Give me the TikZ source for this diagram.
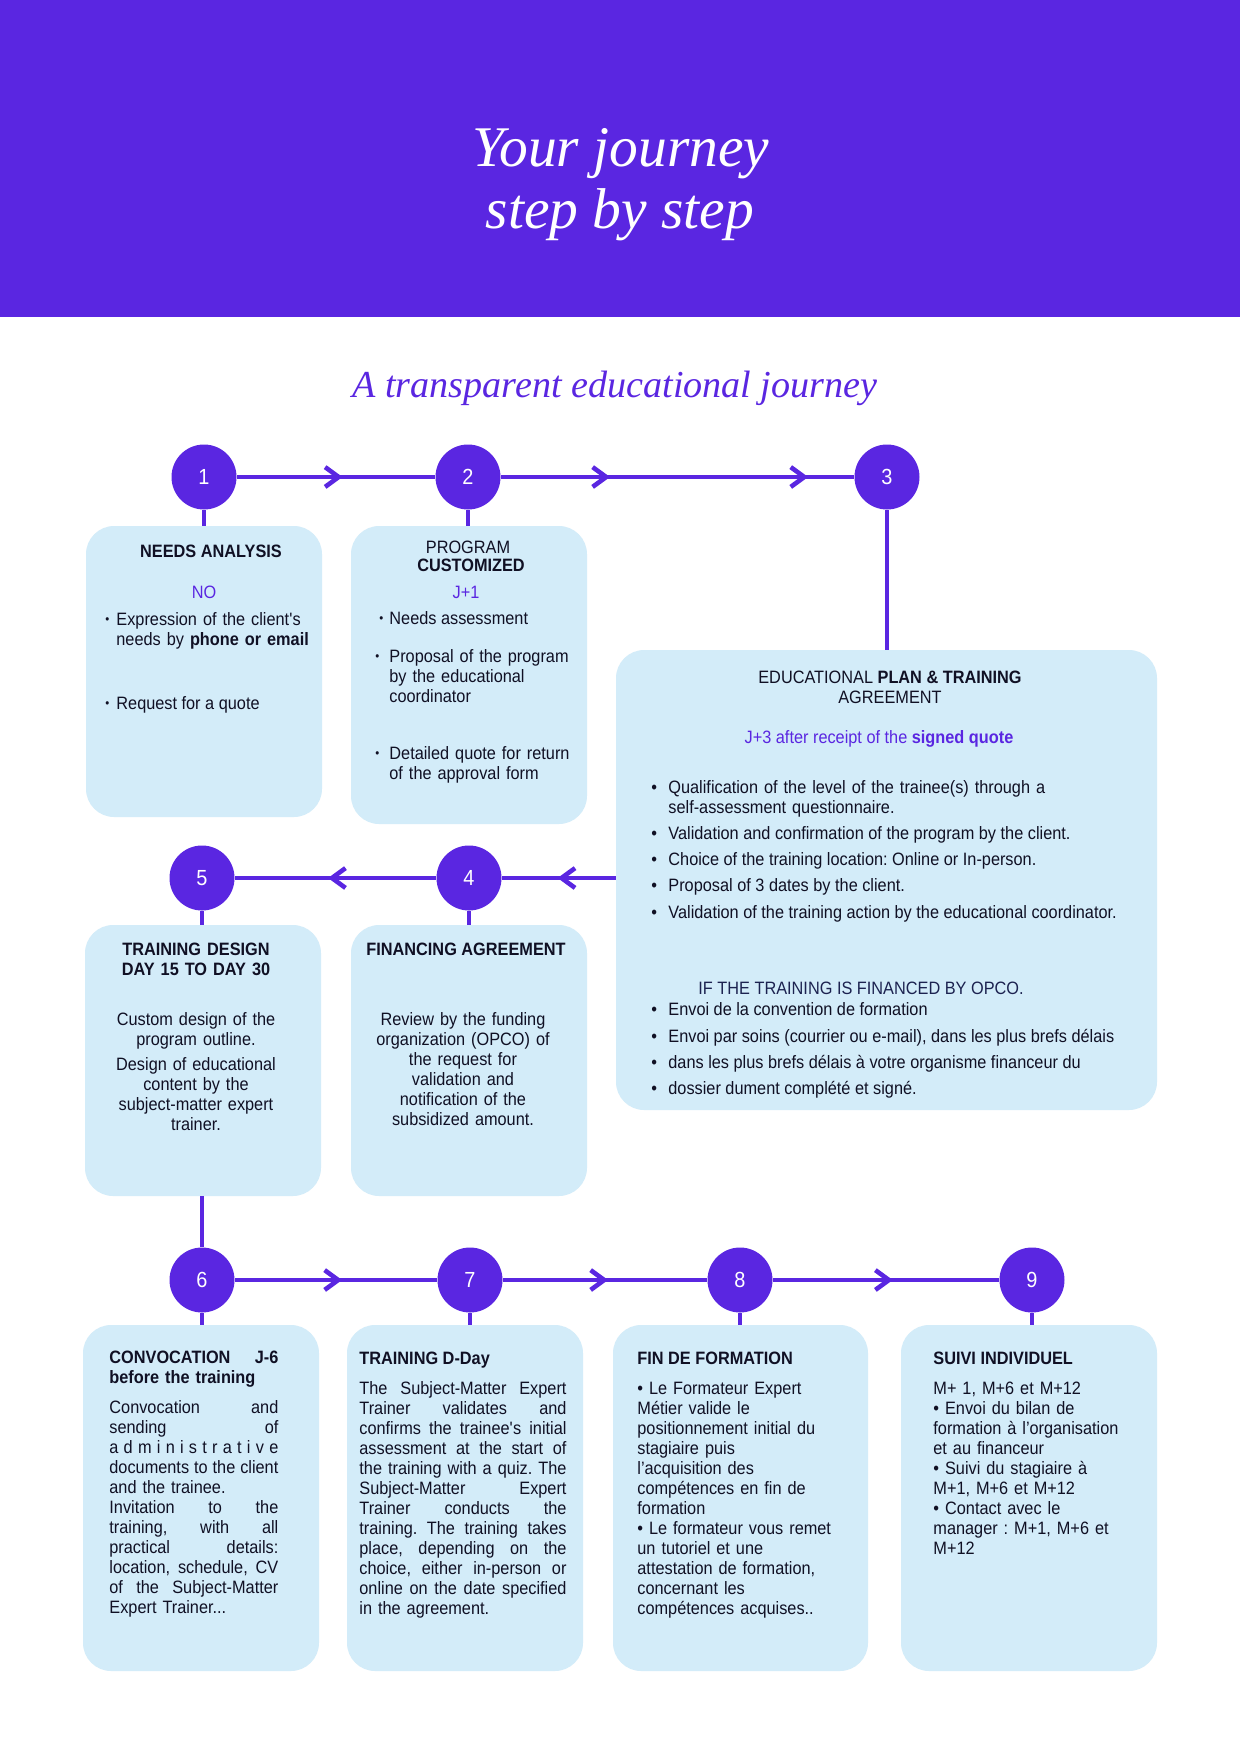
\documentclass[tikz,border=0pt]{standalone}
\usepackage{fontspec}
\setmainfont{Liberation Sans}[FakeStretch=0.91]
\newfontfamily\titlefont{Liberation Serif}
\usetikzlibrary{arrows.meta,decorations.markings}
\definecolor{jpurple}{RGB}{90,38,225}
\definecolor{jblue}{RGB}{211,236,249}
\definecolor{jtext}{RGB}{16,16,36}
\definecolor{jnavy}{RGB}{28,34,80}
\newcommand\jla[1]{\leavevmode\hbox to 81.1pt{#1}\\}
\newcommand\jlb[1]{\leavevmode\hbox to 99.4pt{#1}\\}
\newcommand\jboxnode[5]{\node[jbox, minimum width={(#4-#2)*0.48pt}, minimum height={(#5-#3)*0.48pt}] (#1) at ({(#2+#4)/2},{(#3+#5)/2}) {};}
\newcommand\smbul{\raisebox{0.6pt}{\fontsize{6}{6}\selectfont •}}
\frenchspacing
\begin{document}
\begin{tikzpicture}[x=0.48pt,y=-0.48pt,
  jbox/.style={fill=jblue, rounded corners=13.5pt, inner sep=0pt, draw=none},
  num/.style={circle, fill=jpurple, minimum size=31.2pt, inner sep=0pt, text=white, font=\fontsize{10.5}{10.5}\selectfont},
  link/.style={draw=jpurple, line width=2.2pt},
  flow/.style={link, postaction={decorate}, decoration={markings, mark=at position #1 with {\arrow{Straight Barb[length=6.5pt,width=9.5pt]}}}},
  flow/.default=0.53,
  flowtwo/.style 2 args={link, postaction={decorate}, decoration={markings, mark=at position #1 with {\arrow{Straight Barb[length=6.5pt,width=9.5pt]}}, mark=at position #2 with {\arrow{Straight Barb[length=6.5pt,width=9.5pt]}}}},
  tx/.style={text=jtext, inner sep=0pt, anchor=base west, font=\fontsize{8.6}{9.6}\selectfont\frenchspacing},
  txc/.style={tx, anchor=base},
  hd/.style={tx, font=\fontsize{8.6}{9.6}\selectfont\bfseries\frenchspacing},
  hdc/.style={hd, anchor=base},
]
\useasboundingbox (0,0) rectangle (1240,1754);
\fill[white] (0,0) rectangle (1240,1754);
\fill[jpurple] (0,0) rectangle (1240,317);

% titles
\node[font=\titlefont\itshape\fontsize{27.6}{30}\selectfont, text=white, anchor=base, inner sep=0pt] (title1) at (621,166) {Your journey};
\node[font=\titlefont\itshape\fontsize{27.6}{30}\selectfont, text=white, anchor=base, inner sep=0pt] (title2) at (620,228) {step by step};
\node[font=\titlefont\itshape\fontsize{18.3}{20}\selectfont, text=jpurple, anchor=base, inner sep=0pt] (subtitle) at (615,397) {A transparent educational journey};

% boxes
\jboxnode{b1}{86}{526}{322}{817}
\jboxnode{b2}{351}{526}{587}{824}
\jboxnode{b3}{616}{650}{1157}{1110}
\jboxnode{b4}{351}{925}{587}{1196}
\jboxnode{b5}{85}{925}{321}{1196}
\jboxnode{b6}{83}{1325}{319}{1671}
\jboxnode{b7}{347}{1325}{583}{1671}
\jboxnode{b8}{613}{1325}{868}{1671}
\jboxnode{b9}{901}{1325}{1157}{1671}

% circles
\node[num] (c1) at (204,477) {1};
\node[num] (c2) at (468,477) {2};
\node[num] (c3) at (887,477) {3};
\node[num] (c4) at (469,878) {4};
\node[num] (c5) at (202,878) {5};
\node[num] (c6) at (202,1280) {6};
\node[num] (c7) at (470,1280) {7};
\node[num] (c8) at (740,1280) {8};
\node[num] (c9) at (1032,1280) {9};

% connectors
\draw[flow=0.533] (c1) -- (c2);
\draw[flowtwo={0.309}{0.87}] (c2) -- (c3);
\draw[flow=0.51] (b3.west |- c4.center) -- (c4);
\draw[flow=0.537] (c4) -- (c5);
\draw[flow=0.53] (c6) -- (c7);
\draw[flow=0.515] (c7) -- (c8);
\draw[flow=0.53] (c8) -- (c9);
\draw[link] (c1) -- (c1 |- b1.north);
\draw[link] (c2) -- (c2 |- b2.north);
\draw[link] (c3) -- (c3 |- b3.north);
\draw[link] (c4) -- (c4 |- b4.north);
\draw[link] (c5) -- (c5 |- b5.north);
\draw[link] (c6 |- b5.south) -- (c6);
\draw[link] (c6) -- (c6 |- b6.north);
\draw[link] (c7) -- (c7 |- b7.north);
\draw[link] (c8) -- (c8 |- b8.north);
\draw[link] (c9) -- (c9 |- b9.north);

% box 1
\node[hdc] (h1) at (211,557) {NEEDS ANALYSIS};
\node[txc, text=jpurple] (t1a) at (204,598) {NO};
\node[tx] (u1a) at (105,625) {\smbul};
\node[tx, text width=100pt, align=left] (t1b) at (116,625) {Expression of the client\textquotesingle s\\needs by \textbf{phone or email}};
\node[tx] (u1b) at (105,709) {\smbul};
\node[tx] (t1c) at (116,709) {Request for a quote};

% box 2
\node[txc] (h2a) at (468,553) {PROGRAM};
\node[hdc] (h2b) at (471,571) {CUSTOMIZED};
\node[txc, text=jpurple] (t2a) at (466,598) {J+1};
\node[tx] (u2a) at (379,624) {\smbul};
\node[tx] (t2b) at (389,624) {Needs assessment};
\node[tx] (u2b) at (375,662) {\smbul};
\node[tx, text width=100pt, align=left] (t2c) at (389,662) {Proposal of the program\\by the educational\\coordinator};
\node[tx] (u2c) at (375,759) {\smbul};
\node[tx, text width=100pt, align=left] (t2d) at (389,759) {Detailed quote for return\\of the approval form};

% box 3
\node[txc] (h3a) at (890,683) {EDUCATIONAL \textbf{PLAN \& TRAINING}};
\node[txc] (h3b) at (890,703) {AGREEMENT};
\node[txc, text=jpurple] (t3a) at (879,743) {J+3 after receipt of the \textbf{signed quote}};
\node[tx] (u3a) at (651,793) {•};
\node[tx, text width=230pt, align=left] (t3b) at (668,793) {Qualification of the level of the trainee(s) through a\\self-assessment questionnaire.};
\node[tx] (u3b) at (651,839) {•};
\node[tx] (t3c) at (668,839) {Validation and confirmation of the program by the client.};
\node[tx] (u3c) at (651,865) {•};
\node[tx] (t3d) at (668,865) {Choice of the training location: Online or In-person.};
\node[tx] (u3d) at (651,891) {•};
\node[tx] (t3e) at (668,891) {Proposal of 3 dates by the client.};
\node[tx] (u3e) at (651,918) {•};
\node[tx] (t3f) at (668,918) {Validation of the training action by the educational coordinator.};
\node[tx, text=jnavy] (h3c) at (698,994) {IF THE TRAINING IS FINANCED BY OPCO.};
\node[tx] (u3f) at (651,1015) {•};
\node[tx] (t3g) at (668,1015) {Envoi de la convention de formation};
\node[tx] (u3g) at (651,1042) {•};
\node[tx] (t3h) at (668,1042) {Envoi par soins (courrier ou e-mail), dans les plus brefs délais};
\node[tx] (u3h) at (651,1068) {•};
\node[tx] (t3i) at (668,1068) {dans les plus brefs délais à votre organisme financeur du};
\node[tx] (u3i) at (651,1094) {•};
\node[tx] (t3j) at (668,1094) {dossier dument complété et signé.};

% box 4
\node[hdc] (h4) at (466,955) {FINANCING AGREEMENT};
\node[txc, text width=113pt, align=center] (t4) at (463,1025) {Review by the funding\\organization (OPCO) of\\the request for\\validation and\\notification of the\\subsidized amount.};

% box 5
\node[hdc, text width=113pt, align=center] (h5) at (196,955) {TRAINING DESIGN\\DAY 15 TO DAY 30};
\node[txc, text width=113pt, align=center] (t5a) at (196,1025) {Custom design of the\\program outline.};
\node[txc, text width=113pt, align=center] (t5b) at (196,1070) {Design of educational\\content by the\\subject-matter expert\\trainer.};

% box 6
\node[hd, text width=81.1pt, align=left] (h6) at (109,1363) {\jla{CONVOCATION\hfill J-6}before the training};
\node[tx, text width=81.1pt, align=left] (t6) at (109,1413) {%
\jla{Convocation\hfill and}%
\jla{sending\hfill of}%
\jla{a\hfill d\hfill m\hfill i\hfill n\hfill i\hfill s\hfill t\hfill r\hfill a\hfill t\hfill i\hfill v\hfill e}%
\jla{documents\hfill to\hfill the\hfill client}%
and the trainee.\\
\jla{Invitation\hfill to\hfill the}%
\jla{training,\hfill with\hfill all}%
\jla{practical\hfill details:}%
\jla{location,\hfill schedule,\hfill CV}%
\jla{of\hfill the\hfill Subject-Matter}%
Expert Trainer...};

% box 7
\node[hd] (h7) at (359,1364) {TRAINING D-Day};
\node[tx, text width=99.4pt, align=left] (t7) at (359,1394) {%
\jlb{The\hfill Subject-Matter\hfill Expert}%
\jlb{Trainer\hfill validates\hfill and}%
\jlb{confirms\hfill the\hfill trainee\textquotesingle s\hfill initial}%
\jlb{assessment\hfill at\hfill the\hfill start\hfill of}%
\jlb{the\hfill training\hfill with\hfill a\hfill quiz.\hfill The}%
\jlb{Subject-Matter\hfill Expert}%
\jlb{Trainer\hfill conducts\hfill the}%
\jlb{training.\hfill The\hfill training\hfill takes}%
\jlb{place,\hfill depending\hfill on\hfill the}%
\jlb{choice,\hfill either\hfill in-person\hfill or}%
\jlb{online\hfill on\hfill the\hfill date\hfill specified}%
in the agreement.};

% box 8
\node[hd] (h8) at (637,1364) {FIN DE FORMATION};
\node[tx, text width=110pt, align=left] (t8) at (637,1394) {• Le Formateur Expert\\Métier valide le\\positionnement initial du\\stagiaire puis\\l’acquisition des\\compétences en fin de\\formation\\• Le formateur vous remet\\un tutoriel et une\\attestation de formation,\\concernant les\\compétences acquises..};

% box 9
\node[hd] (h9) at (933,1364) {SUIVI INDIVIDUEL};
\node[tx, text width=105pt, align=left] (t9) at (933,1394) {M+ 1, M+6 et M+12\\• Envoi du bilan de\\formation à l’organisation\\et au financeur\\• Suivi du stagiaire à\\M+1, M+6 et M+12\\• Contact avec le\\manager : M+1, M+6 et\\M+12};
\end{tikzpicture}
\end{document}
